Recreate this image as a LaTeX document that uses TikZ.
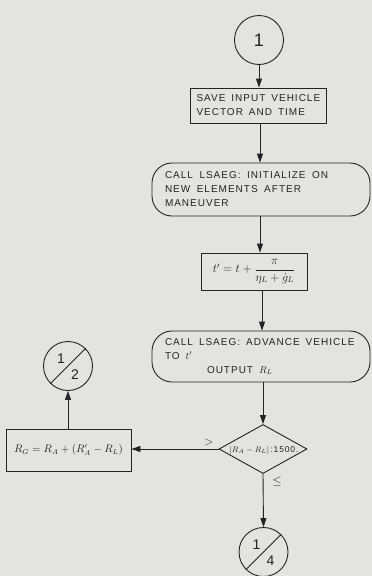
\documentclass[tikz,border=0pt]{standalone}
\usepackage{fontspec}
\setmainfont{Liberation Sans}[LetterSpace=10]
\usetikzlibrary{arrows.meta, shapes.geometric, calc}
\definecolor{paper}{RGB}{227,228,224}
\definecolor{ink}{RGB}{35,35,35}
\newcommand{\myboxfont}{\fontsize{10}{14}\selectfont}
\newcommand{\ind}{\hspace*{3pt}}
\begin{document}
\begin{tikzpicture}[x=1pt, y=-1pt,
  every node/.style={text=ink},
  line/.style={draw=ink, line width=0.9pt},
  arr/.style={line, -{Triangle[length=9pt,width=6pt]}},
  circ/.style={circle, draw=ink, line width=0.9pt, minimum size=49pt, inner sep=0pt},
  box/.style={rectangle, draw=ink, line width=0.9pt, inner ysep=0pt, align=left,
              font=\myboxfont, execute at begin node={\spaceskip=6.5pt plus 1pt minus 1pt\relax}},
  rbox/.style={box, rounded corners=20pt},
  lbl/.style={inner sep=0pt}
]
\fill[paper] (0,0) rectangle (372,576);
\useasboundingbox (0,0) rectangle (372,576);
\coordinate (xa) at (260,0);
\coordinate (xb) at (262,0);

\node[circ] (c1) at (259,40) {\fontsize{18}{18}\selectfont 1};

\node[box, minimum width=136pt, minimum height=35pt, text width=133pt, inner xsep=1.5pt,
      execute at begin node={\spaceskip=6pt plus 1pt minus 1pt\relax}]
  (b1) at (258,105.5) {\hspace*{5pt}SAVE INPUT VEHICLE\\\hspace*{5pt}VECTOR AND TIME};

\node[rbox, minimum width=218pt, minimum height=53pt, text width=198pt, inner xsep=10pt]
  (b2) at (261,189.5) {\ind CALL LSAEG: INITIALIZE ON\\\ind NEW ELEMENTS AFTER\\\ind MANEUVER};

\node[box, minimum width=106pt, minimum height=37pt, align=center, inner xsep=0pt,
      font=\fontsize{12}{13}\selectfont]
  (fr) at (254,271.5) {$t' = t + \displaystyle\frac{\pi}{\eta_L + \dot{g}_L}$};

\node[rbox, minimum width=218pt, minimum height=51pt, text width=198pt, inner xsep=10pt,
      execute at begin node={\spaceskip=6pt plus 1pt minus 1pt\relax}]
  (b3) at (261,356.5) {\ind CALL LSAEG: ADVANCE VEHICLE\\\ind TO $t'$\\\hspace*{45pt}OUTPUT $R_L$};

\node[diamond, draw=ink, line width=0.9pt, minimum width=88pt, minimum height=49pt, inner sep=0pt]
  (dia) at (263,449) {};
\node[lbl, font=\fontsize{8.5}{10}\selectfont] (dtx) at (264,450) {$|R_A - R_L|\,$:1500.};

\node[box, minimum width=125pt, minimum height=42pt, align=center, inner xsep=0pt,
      font=\fontsize{10.5}{12}\selectfont]
  (rg) at (68.5,450) {$R_G = R_A + (R_A' - R_L)$};

\node[circ] (c2) at (68,366) {};
\draw[line] (c2.225) -- (c2.45);
\node[lbl, font=\fontsize{14}{14}\selectfont] (c2a) at ($(c2)+(-7,-7)$) {1};
\node[lbl, font=\fontsize{14}{14}\selectfont] (c2b) at ($(c2)+(7,9)$) {2};

\node[circ] (c4) at (263.5,552) {};
\draw[line] (c4.225) -- (c4.45);
\node[lbl, font=\fontsize{14}{14}\selectfont] (c4a) at ($(c4)+(-7,-7)$) {1};
\node[lbl, font=\fontsize{14}{14}\selectfont] (c4b) at ($(c4)+(7,9)$) {4};

% connectors
\draw[arr] (c1.south) -- (c1.south |- b1.north);
\draw[arr] (b1.south -| xa) -- (b2.north -| xa);
\draw[arr] (b2.south -| xa) -- (fr.north -| xa);
\draw[arr] (fr.south -| xb) -- (b3.north -| xb);
\draw[arr] (b3.south -| dia.north) -- (dia.north);
\draw[arr] (dia.west) -- (dia.west -| rg.east);
\draw[arr] (rg.north -| c2.south) -- (c2.south);
\draw[arr] (dia.south) -- (c4.north);

\node[lbl, font=\fontsize{13}{13}\selectfont] (gt) at (209,442) {$>$};
\node[lbl, font=\fontsize{12}{12}\selectfont] (le) at (277,481) {$\leq$};
\end{tikzpicture}
\end{document}
